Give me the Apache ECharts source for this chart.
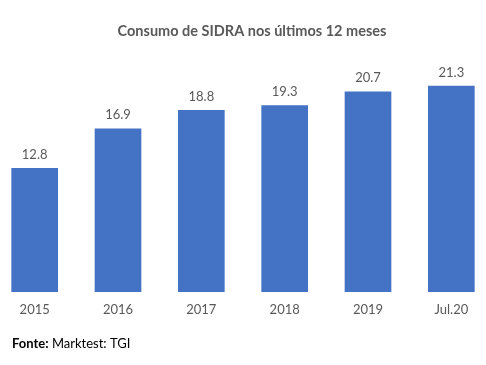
<!DOCTYPE html>
<html>
<head>
<meta charset="utf-8">
<script src="https://cdn.jsdelivr.net/npm/echarts@6/dist/echarts.min.js"></script>
<style>html,body{margin:0;padding:0;background:#fff;overflow:hidden;width:486px;height:365px;}#c{width:500px;height:365px;margin-left:-7px;}</style>
</head>
<body>
<div id="c"></div>
<script>
const categories = ['2015', '2016', '2017', '2018', '2019', 'Jul.20'];
const values = [12.8, 16.9, 18.8, 19.3, 20.7, 21.3];
const titleText = 'Consumo de SIDRA nos últimos 12 meses';

const chart = echarts.init(document.getElementById('c'));
chart.setOption({
  animation: false,
  backgroundColor: '#ffffff',
  title: {
    text: titleText,
    left: 254, top: 19, textAlign: 'center',
    textStyle: { fontFamily: 'Lato', fontSize: 14.5, fontWeight: 'bold', color: '#595959' }
  },
  graphic: [{
    type: 'text', left: 19, top: 337,
    style: {
      text: '{b|Fonte:} Marktest: TGI',
      rich: {
        b: { fontFamily: 'Lato', fontSize: 13, fontWeight: 'bold', fill: '#000' }
      },
      fontFamily: 'Lato', fontSize: 13, fill: '#000'
    }
  }],
  grid: { left: 0, right: 0, top: 50, bottom: 73, containLabel: false },
  xAxis: {
    type: 'category', data: categories,
    axisLine: { show: false }, axisTick: { show: false },
    axisLabel: { color: '#595959', fontFamily: 'Lato', fontSize: 13, margin: 11 }
  },
  yAxis: {
    type: 'value', min: 0, max: 25,
    show: false, splitLine: { show: false }
  },
  series: [{
    type: 'bar', data: values, barCategoryGap: '44%',
    itemStyle: { color: '#4472C4' },
    label: { show: true, position: 'top', distance: 7, color: '#595959', fontFamily: 'Lato', fontSize: 13,
      formatter: p => p.value.toFixed(1) }
  }]
});
</script>
</body>
</html>
